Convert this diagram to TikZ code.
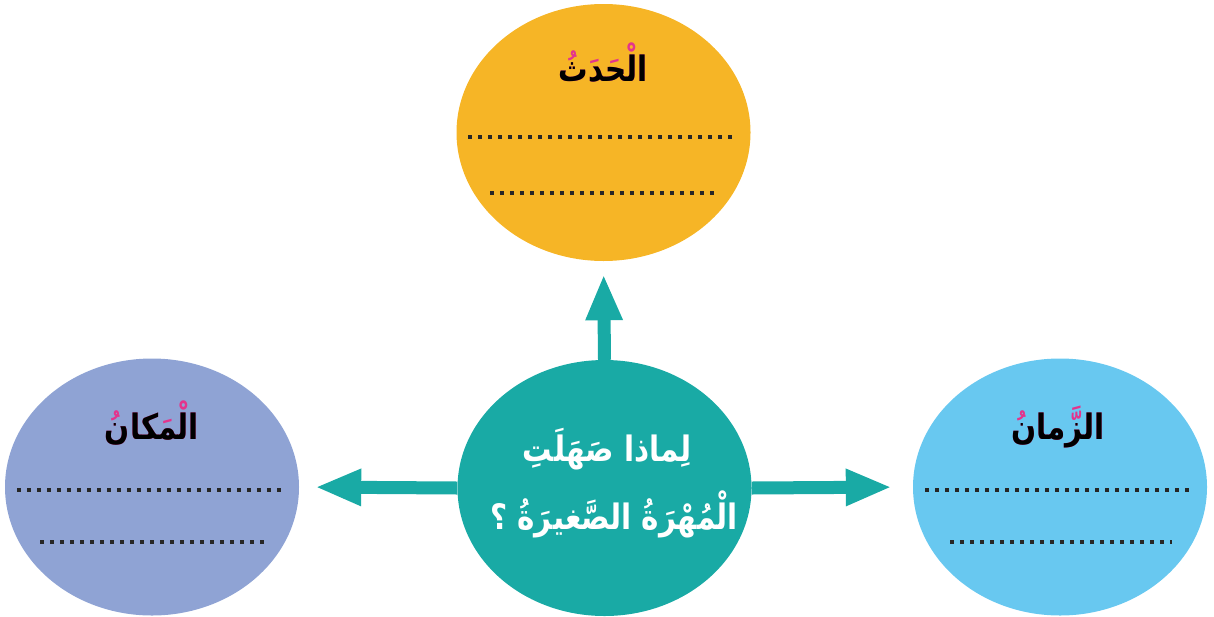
\documentclass[tikz,border=0pt]{standalone}
\usepackage{fontspec}
\usetikzlibrary{shapes.geometric,arrows.meta}
\TeXXeTstate=1
\newfontfamily\arabicfont[Script=Arabic,FakeStretch=0.84]{DejaVu Sans}
\definecolor{orng}{RGB}{246,181,38}
\definecolor{lav}{RGB}{143,163,212}
\definecolor{sky}{RGB}{104,200,240}
\definecolor{teal}{RGB}{25,170,165}
\definecolor{pink}{RGB}{228,52,140}
\begin{document}
\begin{tikzpicture}[x=1pt,y=-1pt,
  blob/.style={ellipse, inner sep=0pt, minimum width=294pt, minimum height=257pt, draw=none},
  ttl/.style={anchor=base, inner sep=0pt, font=\arabicfont\bfseries\fontsize{35}{40}\selectfont},
  ctr/.style={anchor=base, inner sep=0pt, text=white, font=\arabicfont\bfseries\fontsize{35}{42}\selectfont},
  dotline/.style={line width=3.6pt, dash pattern=on 3.6pt off 6.4pt, black!85},
  arr/.style={teal, line width=13pt, -{Triangle[length=46pt,width=34pt]}}]
\useasboundingbox (0,0) rectangle (1214,616);
% circles
\node[blob, fill=orng] (top) at (603.5,132.5) {};
\node[blob, fill=lav] (left) at (152,487) {};
\node[blob, fill=sky] (right) at (1060,487) {};
\node[blob, fill=teal, minimum height=256pt] (c) at (604.5,488) {};
% arrows
\draw[arr, shorten >=13pt] (c.north) -- (top.south);
\draw[arr, shorten >=16pt] (c.west) -- (left.east);
\draw[arr, shorten >=21pt] (c.east) -- (right.west);
% titles (pink marks under black letters)
\node[ttl, text=pink] (t1m) at (603,81) {\beginR الْحَدَثُ\endR};
\node[ttl, text=black] (t1) at (603,81) {\beginR الحدث\endR};
\node[ttl, text=pink] (t2m) at (152,439) {\beginR الْمَكانُ\endR};
\node[ttl, text=black] (t2) at (152,439) {\beginR المكان\endR};
\node[ttl, text=pink] (t3m) at (1058,439) {\beginR الزَّمانُ\endR};
\node[ttl, text=black] (t3) at (1058,439) {\beginR الزمان\endR};
% center question
\node[ctr] (q1) at (607,461) {\beginR لِماذا صَهَلَتِ\endR};
\node[ctr] (q2) at (614,529) {\beginR الْمُهْرَةُ الصَّغيرَةُ ؟\endR};
% dotted answer lines
\draw[dotline] (468,137) -- (735,137);
\draw[dotline] (490,193) -- (715,193);
\draw[dotline] (17,490) -- (285,490);
\draw[dotline] (40,542) -- (265,542);
\draw[dotline] (925,490) -- (1194,490);
\draw[dotline] (950,542) -- (1172,542);
\end{tikzpicture}
\end{document}
